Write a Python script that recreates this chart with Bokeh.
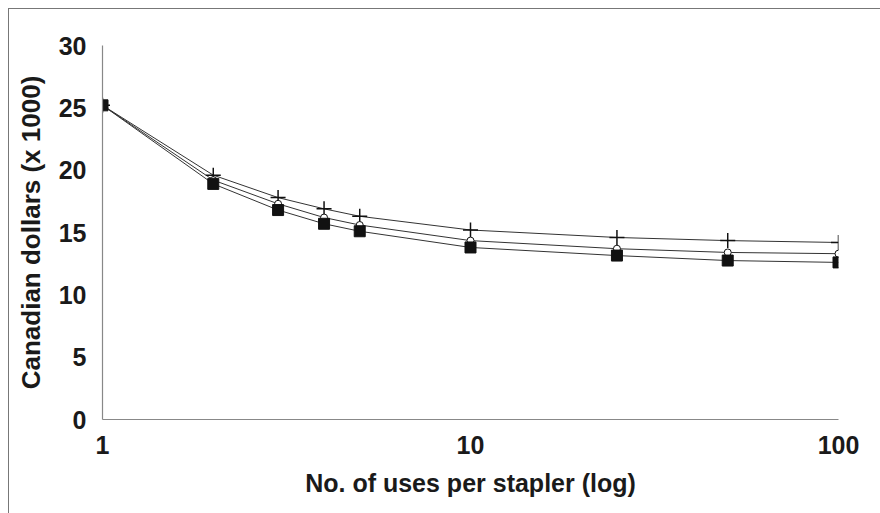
from bokeh.plotting import figure
from bokeh.embed import file_html
from bokeh.resources import INLINE
from bokeh.models import FixedTicker, Range1d
from bokeh.layouts import column

uses = [1, 2, 3, 4, 5, 10, 25, 50, 100]
cost_plus = [25.2, 19.6, 17.8, 16.9, 16.3, 15.2, 14.6, 14.35, 14.2]
cost_circle = [25.2, 19.2, 17.3, 16.2, 15.6, 14.35, 13.7, 13.4, 13.3]
cost_square = [25.2, 18.9, 16.8, 15.7, 15.1, 13.8, 13.15, 12.75, 12.6]
x_ticks = [1, 10, 100]
y_ticks = [0, 5, 10, 15, 20, 25, 30]

FONT = "Liberation Sans"
OFF = 9  # outer frame offset (margin + border)

p = figure(width=880 - OFF, height=513 - OFF, x_axis_type="log",
           output_backend="svg", toolbar_location=None,
           x_range=Range1d(1, 100), y_range=Range1d(0, 30),
           min_border_left=102 - OFF, min_border_right=42,
           min_border_top=45 - OFF, min_border_bottom=94)
p.outline_line_color = None
p.xgrid.visible = False
p.ygrid.visible = False
p.background_fill_color = "white"
p.border_fill_color = "white"

line_col = "#333333"
p.line(uses, cost_plus, line_color=line_col, line_width=1)
p.line(uses, cost_circle, line_color=line_col, line_width=1)
p.line(uses, cost_square, line_color=line_col, line_width=1)
p.scatter(uses, cost_plus, marker="cross", size=15, line_color="#111111",
          line_width=1.5)
p.scatter(uses, cost_circle, marker="circle", size=7, fill_color="white",
          line_color="#111111", line_width=1)
p.scatter(uses, cost_square, marker="square", size=11, fill_color="#111111",
          line_color="#111111")

for ax in (p.xaxis, p.yaxis):
    ax.axis_line_color = "#888888"
    ax.axis_line_width = 1.2
    ax.major_tick_line_color = None
    ax.minor_tick_line_color = None
    ax.major_label_text_font = FONT
    ax.major_label_text_font_style = "bold"
    ax.major_label_text_font_size = "25px"
    ax.major_label_text_color = "#1a1a1a"
    ax.axis_label_text_font = FONT
    ax.axis_label_text_font_style = "bold"
    ax.axis_label_text_color = "#1a1a1a"

p.xaxis.axis_label_text_font_size = "25px"
p.yaxis.axis_label_text_font_size = "26px"
p.xaxis.ticker = FixedTicker(ticks=x_ticks)
p.xaxis.major_label_overrides = {1: "1", 10: "10", 100: "100"}
p.yaxis.ticker = FixedTicker(ticks=y_ticks)
p.xaxis.major_label_standoff = 10
p.yaxis.major_label_standoff = 10
p.xaxis.axis_label = "No. of uses per stapler (log)"
p.yaxis.axis_label = "Canadian dollars (x 1000)"
p.xaxis.axis_label_standoff = 12
p.yaxis.axis_label_standoff = 10

page = column(p, styles={"margin-left": "8px", "margin-top": "8px",
                         "border-left": "1px solid #777777",
                         "border-top": "1px solid #777777"})

open("out.html", "w").write(file_html(page, INLINE))
